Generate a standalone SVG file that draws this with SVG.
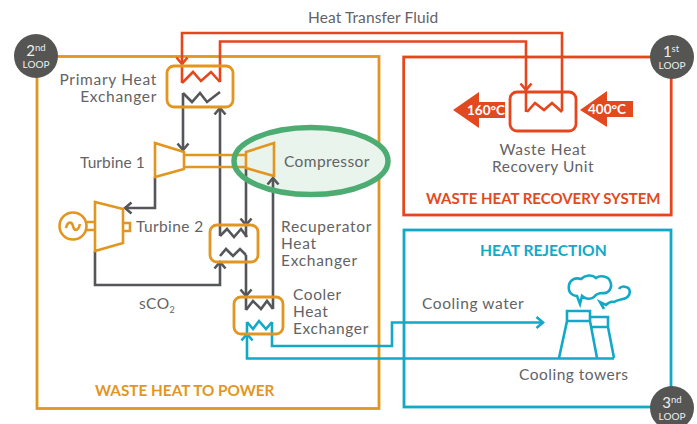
<svg xmlns="http://www.w3.org/2000/svg" width="697" height="424" viewBox="0 0 697 424">
<style>
text{font-family:"Lato","Liberation Sans",sans-serif;fill:#636366;font-size:15.500px;letter-spacing:.5px}
.b{font-weight:700;letter-spacing:0}
.o{fill:#E2961F}.r{fill:#E2491F}.c{fill:#12A9C9}
.w{fill:#fff;font-weight:700;font-size:13.500px;letter-spacing:0}
.lp{fill:#eee;font-size:10px;text-anchor:middle;letter-spacing:0}
.dg{fill:#eee;font-size:15px;text-anchor:middle;letter-spacing:0}
.ln{fill:none;stroke-width:2.600;stroke-linejoin:miter}
.og{stroke:#E2961F}.rd{stroke:#E5461D}.gy{stroke:#55565A}.bl{stroke:#12A9C9}
.bx{fill:none;stroke-width:2.800}
.loop{fill:#555553}
</style>
<defs>
<marker id="ag" viewBox="0 0 14 14" refX="12" refY="7" markerWidth="14" markerHeight="14" markerUnits="userSpaceOnUse" orient="auto"><path d="M5.500 1.500L12 7L5.500 12.500" fill="none" stroke="#55565A" stroke-width="2.600"/></marker>
<marker id="ar" viewBox="0 0 14 14" refX="12" refY="7" markerWidth="14" markerHeight="14" markerUnits="userSpaceOnUse" orient="auto"><path d="M5.500 1.500L12 7L5.500 12.500" fill="none" stroke="#E5461D" stroke-width="2.600"/></marker>
<marker id="ab" viewBox="0 0 14 14" refX="12" refY="7" markerWidth="14" markerHeight="14" markerUnits="userSpaceOnUse" orient="auto"><path d="M5.500 1.500L12 7L5.500 12.500" fill="none" stroke="#12A9C9" stroke-width="2.600"/></marker>
</defs>
<rect width="697" height="424" fill="#fff"/>
<g id="panels">
<rect class="bx og" x="37" y="56.500" width="342" height="352"/>
<rect class="bx rd" x="403.700" y="57" width="267.500" height="158"/>
<rect class="bx bl" x="404" y="230" width="267" height="177"/>
</g>
<ellipse id="compressor-highlight" cx="311" cy="161" rx="77" ry="33.500" fill="#E8F4EC"/>
<g id="connectors">
<path class="ln rd" marker-end="url(#ar)" d="M562 111V33H182V64"/>
<path class="ln rd" d="M182 64V83"/>
<path class="ln rd" marker-end="url(#ar)" d="M220 82V41.500H526V90"/>
<path class="ln rd" d="M526 90V112"/>
<path class="ln gy" marker-end="url(#ag)" d="M183 93V150"/>
<path class="ln gy" marker-end="url(#ag)" d="M220 236V108"/>
<path class="ln gy" marker-end="url(#ag)" d="M155 177V208H125"/>
<path class="ln gy" marker-end="url(#ag)" d="M95 251V285H220V262"/>
<path class="ln gy" marker-end="url(#ag)" d="M246 168V225"/>
<path class="ln gy" d="M246 225V237"/>
<path class="ln gy" marker-end="url(#ag)" d="M246 255V296"/>
<path class="ln gy" d="M246 296V310"/>
<path class="ln gy" marker-end="url(#ag)" d="M273 309V178"/>
<path class="ln bl" marker-end="url(#ab)" d="M272 322V346H392V322.500H543"/>
<path class="ln bl" marker-end="url(#ab)" d="M614 358.500H247V334"/>
<path class="ln bl" d="M247 334V322"/>
</g>
<g id="primary-heat-exchanger">
<rect class="bx og" x="167" y="66" width="66" height="41" rx="7"/>
<path class="ln rd" d="M182 83L193 72L201 81L211 72L220 82"/>
<path class="ln gy" d="M183 93L192 102L200 93L207 102L220 92"/>
<text x="157" y="85" text-anchor="end" style="letter-spacing:.7px">Primary Heat</text>
<text x="157" y="102" text-anchor="end" style="letter-spacing:.7px">Exchanger</text>
</g>
<g id="turbine-1">
<path class="ln og" d="M155 143L184 152V169L155 177Z"/>
<path class="ln og" d="M184 155H246M184 167H246"/>
<text x="80" y="168" style="letter-spacing:.1px">Turbine 1</text>
</g>
<g id="turbine-2">
<path class="ln og" d="M95 202L123 209V243L95 251Z"/>
<circle class="ln og" cx="73" cy="226" r="13.500"/>
<path class="ln og" d="M66 228C68 220 72 222 73 226C74 231 78 232 80 224"/>
<path class="ln og" d="M87 222H95M87 230H95M123 223H130V231H123"/>
<text x="136" y="232" style="letter-spacing:.4px">Turbine 2</text>
</g>
<g id="recuperator">
<rect class="bx og" x="210" y="225" width="48" height="37" rx="7"/>
<path class="ln gy" d="M220 236L227 229L234 237L241 229L247 237"/>
<path class="ln gy" d="M220 256L226 249L233 256L240 249L246 255"/>
<text x="281" y="232" style="letter-spacing:.7px">Recuperator</text>
<text x="281" y="249" style="letter-spacing:.7px">Heat</text>
<text x="281" y="266" style="letter-spacing:.7px">Exchanger</text>
</g>
<g id="cooler">
<rect class="bx og" x="234" y="297" width="49" height="37" rx="7"/>
<path class="ln gy" d="M246 310L253 301L261 309L267 301L273 309"/>
<path class="ln bl" d="M247 322L253 329L259 321L266 329L272 322"/>
<text x="293" y="300" style="letter-spacing:.6px">Cooler</text>
<text x="293" y="317" style="letter-spacing:.6px">Heat</text>
<text x="293" y="334" style="letter-spacing:.6px">Exchanger</text>
</g>
<g id="compressor">
<ellipse cx="311" cy="161" rx="77" ry="33.500" fill="none" stroke="#4DAC72" stroke-width="5.500"/>
<path class="ln og" d="M246 152L274 143V176L246 168Z"/>
<text x="284" y="167" style="letter-spacing:.4px">Compressor</text>
</g>
<g id="waste-heat-recovery-unit">
<rect class="bx rd" x="510" y="92" width="66" height="39" rx="7"/>
<path class="ln rd" d="M527 112L535 103L544 110L552 103L562 112"/>
<text x="543" y="155" text-anchor="middle" style="letter-spacing:.7px">Waste Heat</text>
<text x="543" y="172" text-anchor="middle">Recovery Unit</text>
</g>
<g id="arrow-160">
<path fill="#E2491F" d="M453 110L479 92V102H505V118H479V128Z"/>
<text class="w" x="467" y="115">160°C</text>
</g>
<g id="arrow-400">
<path fill="#E2491F" d="M580 110L607 91V101H633V117H607V127Z"/>
<text class="w" x="588" y="114">400°C</text>
</g>
<g id="cooling-towers">
<path class="ln bl" d="M559 358L567 321V311H590V321H567M590 321L597 358M590 321V317H608V327H592M608 327L614 358"/>
<path class="ln bl" d="M580 304L577 296C570 295 568 291 569 285C570 280 575 277 581 279C585 275 592 274 596 278C600 275 608 276 610 281C613 287 609 294 603 293C598 293 596 294 594 297C590 300 585 299 582 296Z"/>
<path class="ln bl" d="M604 309L600 302L606 305C608 303 611 301 614 302C618 299 622 300 626 298C631 295 631 288 626 287C623 286 620 287 619 289"/>
<text x="519" y="380" style="letter-spacing:.5px">Cooling towers</text>
</g>
<g id="loop-2">
<circle class="loop" cx="36" cy="56" r="22"/>
<text class="lp" x="36" y="68">LOOP</text>
<text class="dg" x="36" y="56">2<tspan font-size="9.500" dy="-5">nd</tspan></text>
</g>
<g id="loop-1">
<circle class="loop" cx="672" cy="57" r="22"/>
<text class="lp" x="672" y="69">LOOP</text>
<text class="dg" x="671" y="57">1<tspan font-size="9.500" dy="-5">st</tspan></text>
</g>
<g id="loop-3">
<circle class="loop" cx="672" cy="408" r="22"/>
<text class="lp" x="672" y="420">LOOP</text>
<text class="dg" x="672" y="408">3<tspan font-size="9.500" dy="-5">nd</tspan></text>
</g>
<g id="labels">
<text x="308" y="23" style="letter-spacing:.1px">Heat Transfer Fluid</text>
<text x="139" y="309">sCO<tspan dy="4" font-size="9">2</tspan></text>
<text x="422" y="309" style="letter-spacing:.6px">Cooling water</text>
<text class="b o" x="95" y="396" style="font-size:15.300px">WASTE HEAT TO POWER</text>
<text class="b r" x="426" y="204" style="font-size:15px">WASTE HEAT RECOVERY SYSTEM</text>
<text class="b c" x="480" y="256" style="font-size:15.600px">HEAT REJECTION</text>
</g>
</svg>
